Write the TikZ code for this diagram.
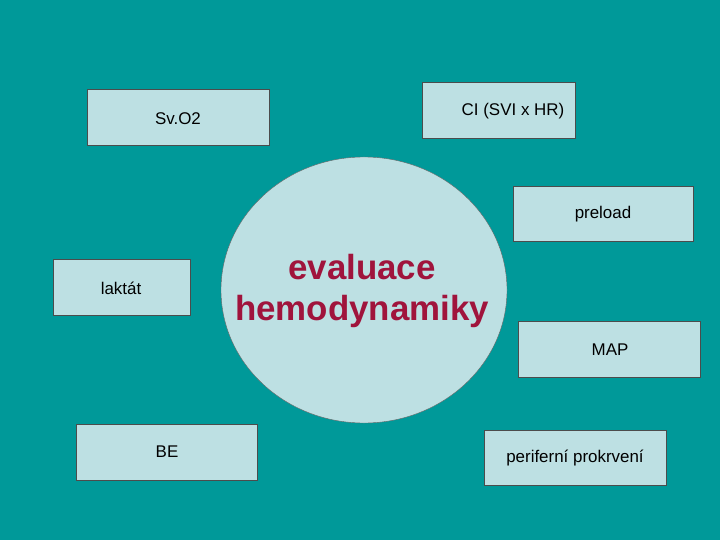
\documentclass[tikz,border=0pt]{standalone}
\usepackage{fontspec}
\setmainfont{Liberation Sans}
\usetikzlibrary{shapes.geometric}
\definecolor{bgteal}{RGB}{0,153,153}
\definecolor{boxfill}{RGB}{189,224,227}
\definecolor{titlered}{RGB}{160,20,60}
\tikzset{
  infobox/.style={draw=black!70, fill=boxfill, line width=0.8pt, anchor=north west, inner sep=0pt},
  boxtext/.style={font=\fontsize{17}{20}\selectfont},
}
\begin{document}
\begin{tikzpicture}[x=1bp,y=-1bp]
  \fill[bgteal] (0,0) rectangle (720,540);
  \useasboundingbox (0,0) rectangle (720,540);
  % centre
  \node[ellipse, draw=black!60, fill=boxfill, minimum width=286bp, minimum height=266bp] (hemo) at (364,290) {};
  \node[text=titlered, font=\fontsize{35}{42}\selectfont\bfseries, align=center] (hemotext) at (362,291) {evaluace\\hemodynamiky};
  % boxes
  \draw[infobox] (87,89) rectangle (269,145);
  \node[boxtext] (svo) at (178,119) {Sv.O2};
  \draw[infobox] (422,82) rectangle (575,138);
  \node[boxtext] (ci) at (513,111) {CI (SVI x HR)};
  \draw[infobox] (513,186) rectangle (693,241);
  \node[boxtext] (pre) at (603,214) {preload};
  \draw[infobox] (53,259) rectangle (190,315);
  \node[boxtext] (lak) at (121,288) {laktát};
  \draw[infobox] (518,321) rectangle (700,377);
  \node[boxtext] (map) at (610,350) {MAP};
  \draw[infobox] (76,424) rectangle (257,480);
  \node[boxtext] (be) at (167,452) {BE};
  \draw[infobox] (484,430) rectangle (666,485);
  \node[boxtext] (per) at (575,458) {periferní prokrvení};
\end{tikzpicture}
\end{document}
